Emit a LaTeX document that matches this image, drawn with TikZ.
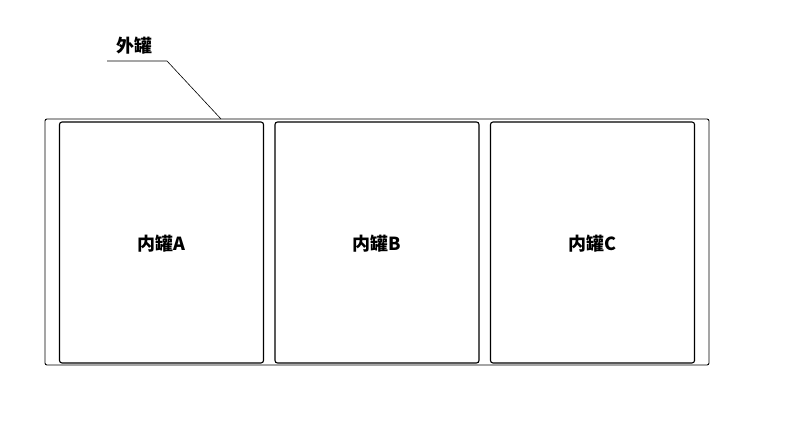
\documentclass[tikz,border=0pt]{standalone}
\usepackage{fontspec}
\newfontfamily\cjk{Noto Sans CJK SC}

\begin{document}
\begin{tikzpicture}
[x=1pt,y=-1pt,%
  outerTank/.style={draw,line width=0.9pt,rounded corners=2pt,inner sep=0pt,%
    minimum width=664pt,minimum height=246pt},%
  innerTank/.style={draw,line width=1.1pt,rounded corners=2.5pt,inner sep=0pt,%
    minimum width=204pt,minimum height=241pt},%
  tankText/.style={font=\cjk\bfseries\fontsize{18}{21}\selectfont},%
  leaderLine/.style={line width=0.6pt}]
\useasboundingbox (0,0) rectangle (800,438);
%% the outer tank
\node[outerTank] (outer) at (377,242) {};
%% the three inner tanks
\foreach \name/\x in {A/161.5, B/377, C/592.5}
{
  \node[innerTank,tankText,text depth=-7pt] (inner\name) at (\x,242.5) {内罐\name};
}
%% label with its leader
\node[tankText] (outerLabel) at (134,46) {外罐};
\coordinate (leaderStart) at (107,61);
\coordinate (leaderKnee) at (167,61);
\coordinate (leaderEnd) at (221,119);
\draw[leaderLine] (leaderStart) -- (leaderKnee) -- (leaderEnd);
\end{tikzpicture}
\end{document}
